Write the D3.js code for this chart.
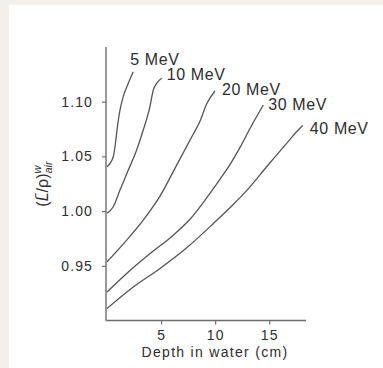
<!DOCTYPE html>
<html>
<head>
<meta charset="utf-8">
<script src="https://cdn.jsdelivr.net/npm/d3@7"></script>
<style>
  html, body { margin: 0; padding: 0; background: #f3efeb; }
  svg { display: block; }
  text { font-family: "Liberation Sans", Arial, Helvetica, sans-serif; fill: #2e2e2e; }
</style>
</head>
<body>
<svg id="chart" width="383" height="368"></svg>
<script>
// Stopping-power ratio water/air versus depth, one curve per beam energy
const energies = ["5 MeV", "10 MeV", "20 MeV", "30 MeV", "40 MeV"];

const depth5  = [0, 0.58, 0.74, 0.89, 1.05, 1.20, 1.50, 1.97, 2.43];
const ratio5  = [1.0405, 1.0497, 1.0588, 1.0711, 1.0833, 1.0924, 1.1046, 1.1168, 1.1274];

const depth10 = [0, 0.58, 1.20, 1.97, 2.74, 3.35, 3.97, 4.28, 4.59, 5.06];
const ratio10 = [0.998, 1.004, 1.0192, 1.0375, 1.0558, 1.0741, 1.0954, 1.1107, 1.1168, 1.1214];

const depth20 = [0, 1.82, 3.35, 4.90, 6.44, 7.98, 8.59, 9.21, 9.98];
const ratio20 = [0.9536, 0.9735, 0.9918, 1.0137, 1.042, 1.0705, 1.082, 1.0979, 1.1098];

const depth30 = [0, 1.82, 3.97, 6.13, 7.67, 9.21, 10.44, 11.37, 12.29, 13.22, 13.84, 14.45];
const ratio30 = [0.926, 0.943, 0.961, 0.978, 0.9925, 1.012, 1.029, 1.0425, 1.058, 1.0755, 1.0865, 1.097];

const depth40 = [0, 2.43, 4.90, 7.37, 9.82, 11.67, 13.22, 14.76, 16.61, 17.84, 18.11];
const ratio40 = [0.911, 0.9307, 0.9476, 0.9665, 0.9885, 1.006, 1.0222, 1.0405, 1.0619, 1.0757, 1.0782];

const xTicks = [5, 10, 15];
const yTicks = [0.95, 1.00, 1.05, 1.10];
const xTitle = "Depth in water (cm)";

const depths = [depth5, depth10, depth20, depth30, depth40];
const ratios = [ratio5, ratio10, ratio20, ratio30, ratio40];
const series = energies.map((name, i) => ({
  name,
  points: depths[i].map((d, j) => [d, ratios[i][j]])
}));

const svg = d3.select("#chart");

// white card on the beige page
svg.append("rect")
  .attr("x", 9).attr("y", 5)
  .attr("width", 383 - 9).attr("height", 368 - 5)
  .attr("fill", "#ffffff");

const x = d3.scaleLinear().domain([0, 18.4]).range([107, 306]);
const y = d3.scaleLinear().domain([0.9, 1.15]).range([320.5, 47]);

const axisColor = "#6e6e6e";
const fontStack = '"Liberation Sans", Arial, Helvetica, sans-serif';

// y axis
const gy = svg.append("g").attr("transform", "translate(106,0)")
  .call(d3.axisLeft(y).tickValues(yTicks).tickFormat(d3.format(".2f"))
    .tickSizeInner(4).tickSizeOuter(0).tickPadding(9));
// x axis
const gx = svg.append("g").attr("transform", `translate(0,${y(0.9)})`)
  .call(d3.axisBottom(x).tickValues(xTicks).tickFormat(d3.format("d"))
    .tickSizeInner(4).tickSizeOuter(0).tickPadding(5.5));

[gx, gy].forEach(g => {
  g.select(".domain").attr("stroke", axisColor).attr("stroke-width", 1.4);
  g.selectAll(".tick line").attr("stroke", axisColor).attr("stroke-width", 1.2);
  g.selectAll(".tick text")
    .style("font-family", fontStack)
    .style("font-size", "14px")
    .style("letter-spacing", "1.1px")
    .attr("fill", "#2e2e2e");
});
gy.select(".domain").attr("d", `M0,${y(0.9)}V${y(1.15)}`);
gx.select(".domain").attr("d", `M${x(0) - 1},0H${x(18.4)}`);

// curves
const line = d3.line()
  .x(d => x(d[0]))
  .y(d => y(d[1]))
  .curve(d3.curveMonotoneX);

svg.append("g").selectAll("path")
  .data(series)
  .join("path")
  .attr("d", d => line(d.points))
  .attr("fill", "none")
  .attr("stroke", "#555555")
  .attr("stroke-width", 1.3)
  .attr("stroke-linejoin", "round");

// energy labels next to the top end of each curve
const labelOffset = { "5 MeV": [-3, -7], "10 MeV": [5, 2], "20 MeV": [7, 4], "30 MeV": [5, 5], "40 MeV": [7, 8] };
svg.append("g").selectAll("text")
  .data(series)
  .join("text")
  .attr("x", d => x(d.points[d.points.length - 1][0]) + labelOffset[d.name][0])
  .attr("y", d => y(d.points[d.points.length - 1][1]) + labelOffset[d.name][1])
  .style("font-size", "16px")
  .style("letter-spacing", "0.6px")
  .text(d => d.name);

// x axis title
svg.append("text")
  .attr("x", 215).attr("y", 357)
  .attr("text-anchor", "middle")
  .style("font-size", "14px")
  .style("letter-spacing", "1.3px")
  .text(xTitle);

// y axis title: (L̄/ρ) with superscript w and subscript air
const yt = svg.append("text")
  .attr("transform", "translate(48,184) rotate(-90)")
  .attr("text-anchor", "middle")
  .style("font-size", "16px");
yt.append("tspan").text("(");
yt.append("tspan").style("font-style", "italic").text("L\u0304");
yt.append("tspan").text("/\u03C1)");
yt.append("tspan").attr("dy", -7).style("font-size", "11px").style("font-style", "italic").text("w");
yt.append("tspan").attr("dx", -8).attr("dy", 11).style("font-size", "11px").style("font-style", "italic").text("air");
</script>
</body>
</html>
